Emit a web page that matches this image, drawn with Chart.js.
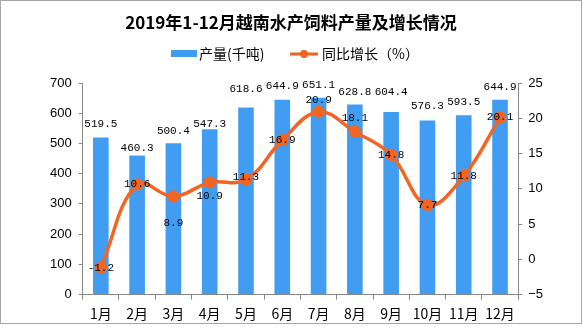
<!DOCTYPE html>
<html>
<head>
<meta charset="utf-8">
<script src="https://cdn.jsdelivr.net/npm/chart.js@4.4.0/dist/chart.umd.min.js"></script>
<style>
  html, body { margin: 0; padding: 0; background: #fff; }
  #wrap { width: 583px; height: 327px; }
</style>
</head>
<body>
<div id="wrap"><canvas id="chart" width="583" height="327"></canvas></div>
<script>
const months = ['1月', '2月', '3月', '4月', '5月', '6月', '7月', '8月', '9月', '10月', '11月', '12月'];
const output = [519.5, 460.3, 500.4, 547.3, 618.6, 644.9, 651.1, 628.8, 604.4, 576.3, 593.5, 644.9];
const growth = [-1.2, 10.6, 8.9, 10.9, 11.3, 16.9, 20.9, 18.1, 14.8, 7.7, 11.8, 20.1];
const titleText = '2019年1-12月越南水产饲料产量及增长情况';
const outputLabel = '产量(千吨)';
const growthLabel = '同比增长（%）';

const BLUE = '#409df1';
const ORANGE = '#f26522';
const AXIS = '#868686';

// label nudges (px), to mimic where the original put the labels
const barLabelLift = [13, 7, 12, 5, 19, 14, 13, 12, 20, 14, 13, 13];
const lineLabelShift = [0, 0, 27, 14, -3, 0, -12, -14, 0, 0, 0, 0];

const decorations = {
    id: 'decorations',
    afterDraw(chart) {
        const ctx = chart.ctx;
        ctx.save();
        // outer frame
        ctx.strokeStyle = '#a6a6a6';
        ctx.lineWidth = 1;
        ctx.strokeRect(0.5, 0.5, 581, 323);

        // title
        ctx.fillStyle = '#000';
        ctx.font = 'bold 17px "Noto Sans CJK SC"';
        ctx.textAlign = 'center';
        ctx.textBaseline = 'middle';
        ctx.fillText(titleText, 291, 23);

        // legend
        ctx.font = '14px "Noto Sans CJK SC"';
        ctx.textAlign = 'left';
        ctx.fillStyle = BLUE;
        ctx.fillRect(171, 50, 26, 7);
        ctx.fillStyle = '#000';
        ctx.fillText(outputLabel, 199, 54);
        ctx.strokeStyle = ORANGE;
        ctx.lineWidth = 3;
        ctx.beginPath();
        ctx.moveTo(290, 54);
        ctx.lineTo(318, 54);
        ctx.stroke();
        ctx.fillStyle = ORANGE;
        ctx.beginPath();
        ctx.arc(304, 54, 4, 0, Math.PI * 2);
        ctx.fill();
        ctx.fillStyle = '#000';
        ctx.fillText(growthLabel, 322, 54);

        // data labels
        ctx.font = '11px "Liberation Mono"';
        ctx.textAlign = 'center';
        ctx.textBaseline = 'middle';
        chart.getDatasetMeta(1).data.forEach((bar, i) => {
            ctx.fillText(output[i].toFixed(1), bar.x, bar.y - barLabelLift[i]);
        });
        chart.getDatasetMeta(0).data.forEach((pt, i) => {
            ctx.fillText(growth[i].toFixed(1), pt.x, pt.y + lineLabelShift[i]);
        });
        ctx.restore();
    }
};

new Chart(document.getElementById('chart'), {
    data: {
        labels: months,
        datasets: [
            {
                type: 'line',
                label: growthLabel,
                data: growth,
                yAxisID: 'y1',
                borderColor: ORANGE,
                backgroundColor: ORANGE,
                borderWidth: 3.5,
                tension: 0.4,
                pointRadius: 4.5,
                pointHoverRadius: 4.5,
                order: 0
            },
            {
                type: 'bar',
                label: outputLabel,
                data: output,
                yAxisID: 'y',
                backgroundColor: BLUE,
                barPercentage: 0.43,
                categoryPercentage: 1,
                order: 1
            }
        ]
    },
    options: {
        responsive: false,
        animation: false,
        layout: { padding: { top: 83, bottom: 0, left: 43, right: 34 } },
        plugins: {
            legend: { display: false },
            title: { display: false },
            tooltip: { enabled: false }
        },
        scales: {
            x: {
                grid: {
                    offset: true,
                    drawOnChartArea: false,
                    drawTicks: true,
                    tickLength: 5,
                    color: AXIS
                },
                border: { color: AXIS },
                ticks: {
                    color: '#000',
                    padding: 6,
                    maxRotation: 0,
                    font: { family: '"Noto Sans CJK SC"', size: 14, lineHeight: 1.1 }
                }
            },
            y: {
                position: 'left',
                min: 0,
                max: 700,
                ticks: {
                    stepSize: 100,
                    color: '#000',
                    padding: 7,
                    font: { family: '"Liberation Sans"', size: 13 }
                },
                grid: { drawOnChartArea: false, tickLength: 4, color: AXIS },
                border: { color: AXIS }
            },
            y1: {
                position: 'right',
                min: -5,
                max: 25,
                ticks: {
                    stepSize: 5,
                    color: '#000',
                    padding: 6,
                    font: { family: '"Liberation Sans"', size: 13 },
                    callback: v => v < 0 ? '\u2212' + Math.abs(v) : v
                },
                grid: { drawOnChartArea: false, tickLength: 4, color: AXIS },
                border: { color: AXIS }
            }
        }
    },
    plugins: [decorations]
});
</script>
</body>
</html>
